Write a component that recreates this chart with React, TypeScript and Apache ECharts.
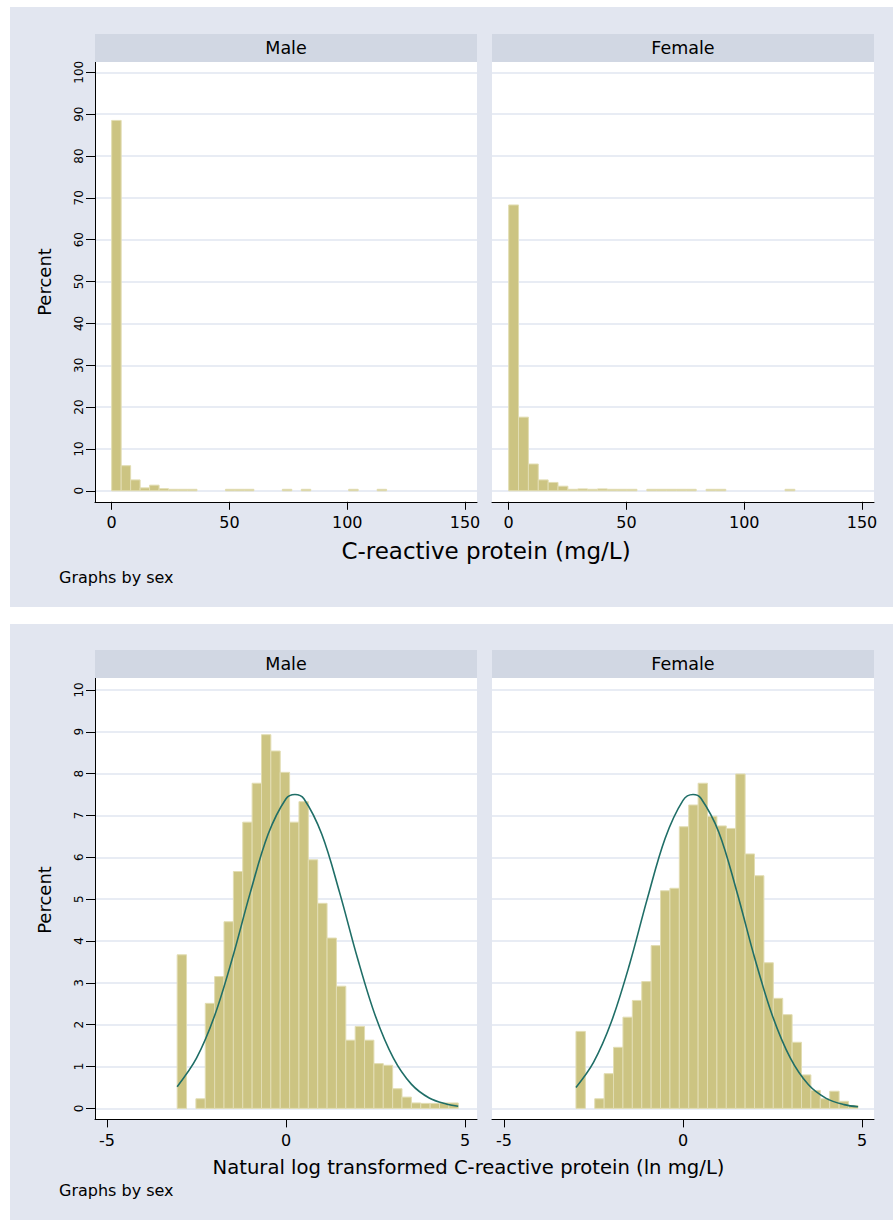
import React, { useEffect, useRef } from "react";
import * as echarts from "echarts";

// ---------- texts ----------
const panelNames = ["Male", "Female"];
const yTitle = "Percent";
const crpTitle = "C-reactive protein (mg/L)";
const lnTitle = "Natural log transformed C-reactive protein (ln mg/L)";
const byNote = "Graphs by sex";

// ---------- tick labels ----------
const crpTicks = [0, 50, 100, 150];
const lnTicks = [-5, 0, 5];

// ---------- top: CRP (mg/L) histograms, percent per bin ----------
const maleCrpStart = 0;
const maleCrpWidth = 4.025;
const maleCrpPercent = [
  88.5, 6.0, 2.6, 0.7, 1.35, 0.5, 0.1, 0.1, 0.1, 0, 0, 0, 0.1, 0.1, 0.1, 0, 0, 0,
  0.1, 0, 0.1, 0, 0, 0, 0, 0.1, 0, 0, 0.1,
];
const femaleCrpStart = 0;
const femaleCrpWidth = 4.19;
const femaleCrpPercent = [
  68.3, 17.6, 6.4, 2.6, 2.0, 1.1, 0.3, 0.45, 0.1, 0.45, 0.15, 0.15, 0.15, 0, 0.15,
  0.15, 0.15, 0.15, 0.15, 0, 0.15, 0.15, 0, 0, 0, 0, 0, 0, 0.1,
];

// ---------- bottom: ln CRP histograms, percent per bin ----------
const maleLnStart = -3.04;
const maleLnWidth = 0.2617;
const maleLnPercent = [
  3.67, 0, 0.23, 2.51, 3.15, 4.46, 5.66, 6.84, 7.77, 8.93, 8.54, 8.03, 6.84, 7.33,
  5.94, 4.9, 4.07, 2.92, 1.63, 1.96, 1.63, 1.07, 1.03, 0.47, 0.27, 0.13, 0.12, 0.12,
  0.13, 0.13,
];
const femaleLnStart = -2.99;
const femaleLnWidth = 0.2625;
const femaleLnPercent = [
  1.84, 0, 0.23, 0.83, 1.46, 2.18, 2.58, 3.03, 3.89, 5.2, 5.26, 6.73, 7.25, 7.77,
  6.98, 6.75, 6.69, 7.99, 6.08, 5.56, 3.48, 2.63, 2.24, 1.58, 0.8, 0.43, 0.23, 0.41,
  0.17, 0.07,
];

// ---------- normal density overlays ----------
const maleCurveX = [-3.04, -2.5, -2, -1.5, -1, -0.5, 0, 0.25, 0.5, 1, 1.5, 2, 2.5, 3, 3.5, 4, 4.5, 4.81];
const maleCurveY = [0.52, 1.2, 2.2, 3.58, 5.15, 6.55, 7.4, 7.5, 7.4, 6.55, 5.15, 3.58, 2.2, 1.2, 0.58, 0.25, 0.1, 0.05];
const femaleCurveX = [-2.99, -2.5, -2, -1.5, -1, -0.5, 0, 0.28, 0.5, 1, 1.5, 2, 2.5, 3, 3.5, 4, 4.5, 4.89];
const femaleCurveY = [0.5, 1.1, 2.07, 3.42, 5.0, 6.45, 7.36, 7.5, 7.41, 6.6, 5.19, 3.6, 2.21, 1.2, 0.57, 0.24, 0.09, 0.04];

// ---------- styles ----------
const FONT = "DejaVu Sans";
const BG = "#e2e6f0";
const STRIP = "#d1d7e3";
const GRIDLINE = "#e1e6f0";
const BAR_FILL = "#ccc482";
const BAR_STROKE = "#e2ddb3";
const CURVE = "#1f6e67";

function makeBins(start: number, width: number, values: number[]) {
  return values.map((v, i) => [start + i * width, start + (i + 1) * width, v]);
}
function makeCurve(xs: number[], ys: number[]) {
  return xs.map((x, i) => [x, ys[i]]);
}

const renderBar = (params: any, api: any) => {
  const x0 = api.value(0);
  const x1 = api.value(1);
  const y = api.value(2);
  if (!(y > 0)) return null;
  const p0 = api.coord([x0, y]);
  const p1 = api.coord([x1, 0]);
  let top = p0[1];
  const bottom = p1[1];
  if (bottom - top < 1.5) top = bottom - 1.5;
  return {
    type: "rect",
    shape: { x: p0[0], y: top, width: p1[0] - p0[0], height: bottom - top },
    style: { fill: BAR_FILL, stroke: BAR_STROKE, lineWidth: 1 },
  };
};

export default function App() {
  const ref = useRef<HTMLDivElement>(null);

  useEffect(() => {
    if (!ref.current) return;
    const chart = echarts.init(ref.current, undefined, { renderer: "svg" });

    const leftX = [95, 492];
    const plotW = 382;
    const topGridTop = 72.3;
    const botGridTop = 689.9;
    const gridH = 418.5;

    const grids = [
      { left: leftX[0], top: topGridTop, width: plotW, height: gridH },
      { left: leftX[1], top: topGridTop, width: plotW, height: gridH },
      { left: leftX[0], top: botGridTop, width: plotW, height: gridH },
      { left: leftX[1], top: botGridTop, width: plotW, height: gridH },
    ].map((g) => ({ ...g, outerBoundsMode: "none", containLabel: false }));

    const xAxisFor = (gridIndex: number, min: number, max: number, ticks: number[]) => ({
      type: "value",
      gridIndex,
      min,
      max,
      position: "bottom",
      offset: 11,
      axisLine: { show: true, onZero: false, lineStyle: { color: "#000", width: 1 } },
      axisTick: { show: true, customValues: ticks, length: 8, lineStyle: { color: "#000", width: 1 } },
      axisLabel: { show: true, customValues: ticks, fontSize: 16, color: "#000", fontFamily: FONT, margin: 13 },
      splitLine: { show: false },
    });

    const yAxisFor = (gridIndex: number, max: number, interval: number, labels: boolean) => ({
      type: "value",
      gridIndex,
      min: 0,
      max,
      interval,
      position: "left",
      axisLine: { show: false, onZero: false },
      axisTick: { show: labels, length: 9, lineStyle: { color: "#000", width: 1 } },
      axisLabel: { show: labels, rotate: 90, fontSize: 12, color: "#000", fontFamily: FONT, margin: 10 },
      splitLine: { show: true, lineStyle: { color: GRIDLINE, width: 1.5 } },
    });

    const rect = (x: number, y: number, w: number, h: number, fill: string, z = -100) => ({
      type: "rect",
      z,
      silent: true,
      shape: { x, y, width: w, height: h },
      style: { fill },
    });
    const text = (t: string, x: number, y: number, size: number, align = "center", rotation = 0) => ({
      type: "text",
      z: 100,
      x,
      y,
      rotation,
      style: {
        text: t,
        fontSize: size,
        fontFamily: FONT,
        fill: "#000",
        align,
        verticalAlign: "middle",
      },
    });
    const vline = (x: number, y1: number, y2: number) => ({
      type: "line",
      z: 100,
      shape: { x1: x, y1, x2: x, y2 },
      style: { stroke: "#000", lineWidth: 1 },
    });

    const graphics = [
      rect(10, 7, 883, 600, BG, -200),
      rect(10, 624, 883, 596, BG, -200),
      rect(leftX[0], 62, plotW, 440, "#ffffff", -150),
      rect(leftX[1], 62, plotW, 440, "#ffffff", -150),
      rect(leftX[0], 678, plotW, 441, "#ffffff", -150),
      rect(leftX[1], 678, plotW, 441, "#ffffff", -150),
      rect(leftX[0], 34, plotW, 28, STRIP, -150),
      rect(leftX[1], 34, plotW, 28, STRIP, -150),
      rect(leftX[0], 650, plotW, 28, STRIP, -150),
      rect(leftX[1], 650, plotW, 28, STRIP, -150),
      vline(95.5, 62, 502),
      vline(95.5, 678, 1119),
      text(panelNames[0], leftX[0] + plotW / 2, 48, 17.5),
      text(panelNames[1], leftX[1] + plotW / 2, 48, 17.5),
      text(panelNames[0], leftX[0] + plotW / 2, 664, 17.5),
      text(panelNames[1], leftX[1] + plotW / 2, 664, 17.5),
      text(yTitle, 44, 282, 18, "center", Math.PI / 2),
      text(yTitle, 44, 900, 18, "center", Math.PI / 2),
      text(crpTitle, 486, 551, 23),
      text(lnTitle, 468.5, 1167, 19.6),
      text(byNote, 59, 577, 16, "left"),
      text(byNote, 59, 1190, 16, "left"),
    ];

    const barSeries = (i: number, data: number[][]) => ({
      type: "custom",
      xAxisIndex: i,
      yAxisIndex: i,
      renderItem: renderBar,
      encode: { x: [0, 1], y: 2 },
      data,
      z: 2,
      silent: true,
    });
    const curveSeries = (i: number, data: number[][]) => ({
      type: "line",
      xAxisIndex: i,
      yAxisIndex: i,
      data,
      smooth: 0.35,
      showSymbol: false,
      symbol: "none",
      lineStyle: { color: CURVE, width: 1.6 },
      z: 3,
      silent: true,
    });

    chart.setOption({
      animation: false,
      backgroundColor: "transparent",
      textStyle: { fontFamily: FONT },
      grid: grids,
      xAxis: [
        xAxisFor(0, -7.08, 155.1, crpTicks),
        xAxisFor(1, -7.08, 155.1, crpTicks),
        xAxisFor(2, -5.335, 5.335, lnTicks),
        xAxisFor(3, -5.335, 5.335, lnTicks),
      ],
      yAxis: [
        yAxisFor(0, 100, 10, true),
        yAxisFor(1, 100, 10, false),
        yAxisFor(2, 10, 1, true),
        yAxisFor(3, 10, 1, false),
      ],
      graphic: { elements: graphics },
      series: [
        barSeries(0, makeBins(maleCrpStart, maleCrpWidth, maleCrpPercent)),
        barSeries(1, makeBins(femaleCrpStart, femaleCrpWidth, femaleCrpPercent)),
        barSeries(2, makeBins(maleLnStart, maleLnWidth, maleLnPercent)),
        barSeries(3, makeBins(femaleLnStart, femaleLnWidth, femaleLnPercent)),
        curveSeries(2, makeCurve(maleCurveX, maleCurveY)),
        curveSeries(3, makeCurve(femaleCurveX, femaleCurveY)),
      ],
    });

    return () => {
      chart.dispose();
    };
  }, []);

  return (
    <div
      ref={ref}
      style={{ position: "absolute", left: 0, top: 0, width: 893, height: 1220, background: "#ffffff" }}
    />
  );
}
